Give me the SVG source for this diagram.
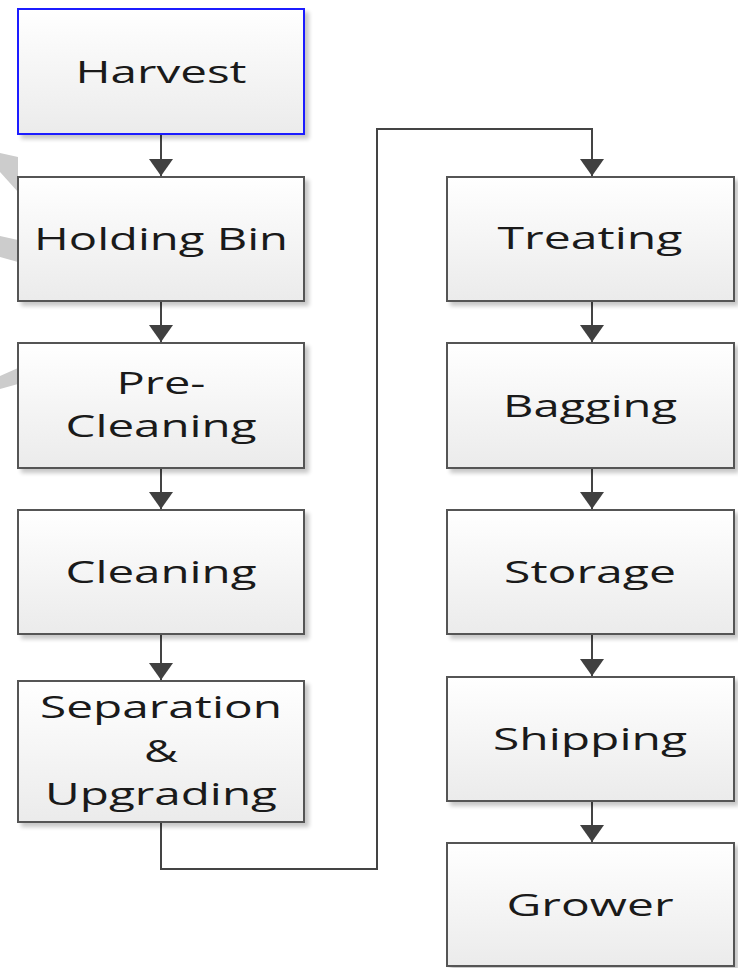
<svg xmlns="http://www.w3.org/2000/svg" width="738" height="968" viewBox="0 0 738 968">
<defs>
<linearGradient id="g" x1="0" y1="0" x2="0" y2="1">
<stop offset="0" stop-color="#ffffff"/>
<stop offset="1" stop-color="#ebebeb"/>
</linearGradient>
<filter id="sh" x="-10%" y="-10%" width="125%" height="125%">
<feGaussianBlur in="SourceAlpha" stdDeviation="2"/>
<feOffset dx="4" dy="4" result="b"/>
<feComponentTransfer><feFuncA type="linear" slope="0.22"/></feComponentTransfer>
<feMerge><feMergeNode/><feMergeNode in="SourceGraphic"/></feMerge>
</filter>
<marker id="ah" markerWidth="24" markerHeight="17" refX="12" refY="17" orient="0" markerUnits="userSpaceOnUse">
<path d="M0,0 L24,0 L12,17 Z" fill="#404040"/>
</marker>
</defs>
<style>
.box{fill:url(#g);stroke:#555555;stroke-width:2;filter:url(#sh)}
.blue{stroke:#1a1aff}
.t{font-family:"Open Sans","Liberation Sans",sans-serif;font-size:31px;fill:#1a1a1a;text-anchor:middle}
.c{fill:none;stroke:#444444;stroke-width:2}
.wm{fill:#cccccc}
</style>
<rect width="738" height="968" fill="#ffffff"/>
<g id="watermark">
<polygon class="wm" points="0,153 18,157 18,192 0,172"/>
<polygon class="wm" points="0,236 18,240 18,262 0,257"/>
<polygon class="wm" points="0,376 18,368 18,384 0,389"/>
</g>
<g id="connectors">
<line class="c" x1="161" y1="134" x2="161" y2="176" marker-end="url(#ah)"/>
<line class="c" x1="161" y1="301" x2="161" y2="342" marker-end="url(#ah)"/>
<line class="c" x1="161" y1="468" x2="161" y2="509" marker-end="url(#ah)"/>
<line class="c" x1="161" y1="634" x2="161" y2="680" marker-end="url(#ah)"/>
<polyline class="c" points="161,822 161,869 377,869 377,129 592,129 592,176" marker-end="url(#ah)"/>
<line class="c" x1="592" y1="301" x2="592" y2="342" marker-end="url(#ah)"/>
<line class="c" x1="592" y1="468" x2="592" y2="509" marker-end="url(#ah)"/>
<line class="c" x1="592" y1="634" x2="592" y2="676" marker-end="url(#ah)"/>
<line class="c" x1="592" y1="801" x2="592" y2="842" marker-end="url(#ah)"/>
</g>
<g id="harvest"><rect class="box blue" x="18" y="9" width="286" height="125"/><text class="t" x="161" y="83" textLength="171" lengthAdjust="spacingAndGlyphs">Harvest</text></g>
<g id="holding-bin"><rect class="box" x="18" y="177" width="286" height="124"/><text class="t" x="161" y="250" textLength="254" lengthAdjust="spacingAndGlyphs">Holding Bin</text></g>
<g id="pre-cleaning"><rect class="box" x="18" y="343" width="286" height="125"/><text class="t" x="161" y="394" textLength="89" lengthAdjust="spacingAndGlyphs">Pre-</text><text class="t" x="161" y="437" textLength="191" lengthAdjust="spacingAndGlyphs">Cleaning</text></g>
<g id="cleaning"><rect class="box" x="18" y="510" width="286" height="124"/><text class="t" x="161" y="583" textLength="191" lengthAdjust="spacingAndGlyphs">Cleaning</text></g>
<g id="separation"><rect class="box" x="18" y="681" width="286" height="141"/><text class="t" x="161" y="718" textLength="242" lengthAdjust="spacingAndGlyphs">Separation</text><text class="t" x="161" y="762" textLength="34" lengthAdjust="spacingAndGlyphs">&amp;</text><text class="t" x="161" y="805" textLength="232" lengthAdjust="spacingAndGlyphs">Upgrading</text></g>
<g id="treating"><rect class="box" x="447" y="177" width="287" height="124"/><text class="t" x="590" y="249" textLength="185" lengthAdjust="spacingAndGlyphs">Treating</text></g>
<g id="bagging"><rect class="box" x="447" y="343" width="287" height="125"/><text class="t" x="590" y="417" textLength="174" lengthAdjust="spacingAndGlyphs">Bagging</text></g>
<g id="storage"><rect class="box" x="447" y="510" width="287" height="124"/><text class="t" x="590" y="583" textLength="172" lengthAdjust="spacingAndGlyphs">Storage</text></g>
<g id="shipping"><rect class="box" x="447" y="677" width="287" height="124"/><text class="t" x="590" y="750" textLength="194" lengthAdjust="spacingAndGlyphs">Shipping</text></g>
<g id="grower"><rect class="box" x="447" y="843" width="287" height="123"/><text class="t" x="590" y="916" textLength="167" lengthAdjust="spacingAndGlyphs">Grower</text></g>
</svg>
